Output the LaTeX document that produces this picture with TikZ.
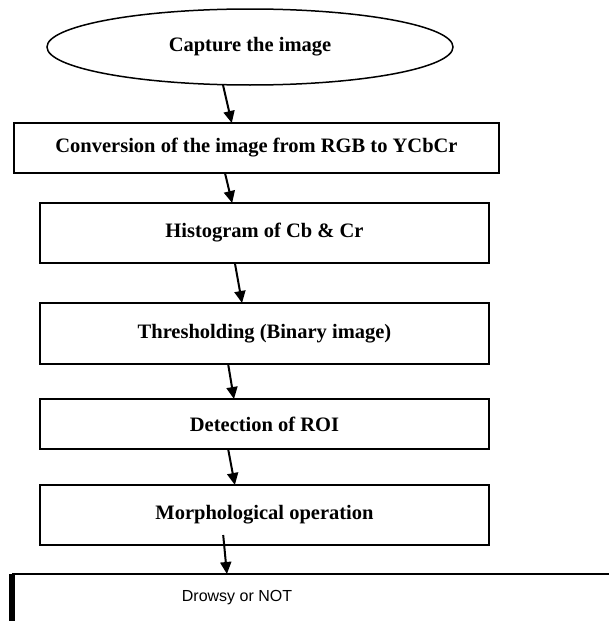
\documentclass[tikz,border=0pt]{standalone}
\usepackage{fontspec}
\setmainfont{Liberation Serif}
\newfontfamily\arialfont{Liberation Sans}
\usepackage{tikz}
\usetikzlibrary{arrows.meta,calc,shapes.geometric}

\begin{document}
\begin{tikzpicture}[x=1pt, y=-1pt, >={Triangle[length=12pt,width=11pt]},
    font=\fontsize{20.5}{24}\selectfont\bfseries,
    stepbox/.style={draw, line width=1.5pt, rectangle, inner sep=0pt, outer sep=0pt},
    flow/.style={->, line width=2pt}]
  \useasboundingbox (0,0) rectangle (609,621);
  % start
  \node[draw, line width=1.5pt, ellipse, inner sep=0pt, outer sep=0pt,
    minimum width=406pt, minimum height=76pt] (cap) at (250,47) {Capture the image};
  % processing steps
  \node[stepbox, minimum width=485pt, minimum height=50pt] (conv) at (256.5,148)
    {Conversion of the image from RGB to YCbCr};
  \node[stepbox, minimum width=449pt, minimum height=60pt] (hist) at (264.5,233)
    {Histogram of Cb \& Cr};
  \node[stepbox, minimum width=449pt, minimum height=61pt] (thr) at (264.5,333.5)
    {Thresholding (Binary image)};
  \node[stepbox, minimum width=449pt, minimum height=50pt] (roi) at (264.5,424)
    {Detection of ROI};
  \node[stepbox, minimum width=449pt, minimum height=60pt] (morph) at (264.5,515)
    {Morphological operation};
  % result (open box)
  \coordinate (tl) at (12,574);
  \coordinate (tr) at (609,574);
  \coordinate (bl) at (12,621);
  \draw[line width=1.5pt] (tl) -- (tr);
  \draw[line width=6pt] (tl) -- (bl);
  \node[font=\arialfont\fontsize{16}{19}\selectfont] (res) at (237,598) {Drowsy or NOT};
  % arrows
  \draw[flow] ($(cap.south)+(-27,0)$) -- ($(conv.north west)!0.449!(conv.north east)$);
  \draw[flow] ($(conv.south west)!0.435!(conv.south east)$) -- ($(hist.north west)!0.428!(hist.north east)$);
  \draw[flow] ($(hist.south west)!0.434!(hist.south east)$) -- ($(thr.north west)!0.45!(thr.north east)$);
  \draw[flow] ($(thr.south west)!0.419!(thr.south east)$) -- ($(roi.north west)!0.432!(roi.north east)$);
  \draw[flow] ($(roi.south west)!0.419!(roi.south east)$) -- ($(morph.north west)!0.434!(morph.north east)$);
  \draw[flow] ($(morph.south west)!0.408!(morph.south east)+(0,-10)$) -- ($(tl)!0.36!(tr)$);
\end{tikzpicture}
\end{document}
